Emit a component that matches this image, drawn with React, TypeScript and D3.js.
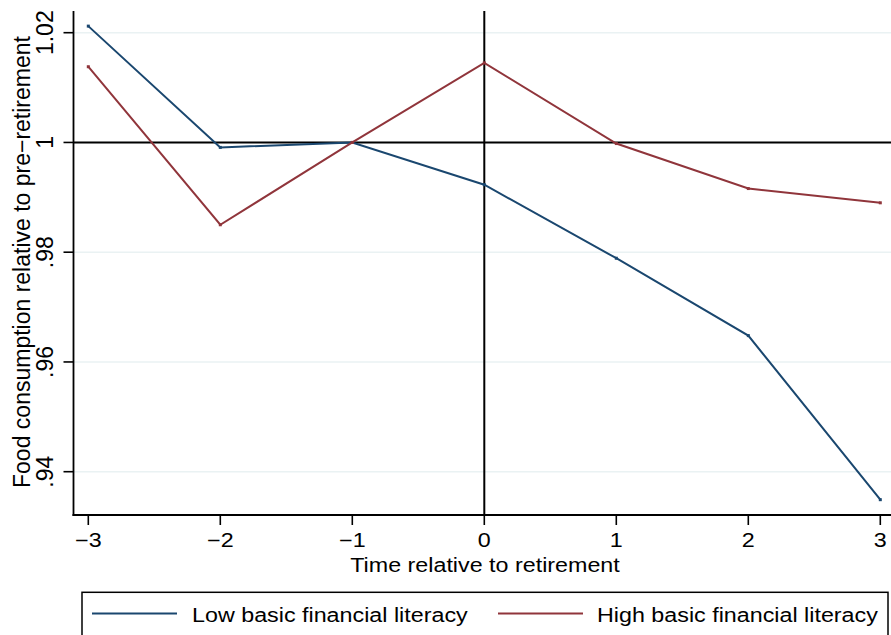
import React from "react";
import * as d3 from "d3";

// Event time (years relative to retirement)
const years = [-3, -2, -1, 0, 1, 2, 3];
// Food consumption relative to pre-retirement, by financial literacy group
const lowLiteracy = [1.0212, 0.9991, 1.0, 0.9923, 0.9789, 0.9648, 0.9349];
const highLiteracy = [1.0138, 0.985, 1.0, 1.0145, 0.9998, 0.9916, 0.989];

const yTicks = [0.94, 0.96, 0.98, 1, 1.02];
const yTickLabels = [".94", ".96", ".98", "1", "1.02"];
const xTicks = [-3, -2, -1, 0, 1, 2, 3];
const xTickLabels = ["\u22123", "\u22122", "\u22121", "0", "1", "2", "3"];

const seriesNames = ["Low basic financial literacy", "High basic financial literacy"];
const seriesColors = ["#1a476f", "#90353b"];

const W = 891;
const H = 635;
const FONT = "'Liberation Sans', Arial, Helvetica, sans-serif";

export default function App() {
  const plot = { left: 73.5, right: 897, top: 11, bottom: 515 };
  const x = d3.scaleLinear().domain([-3, 3]).range([88.3, 880.3]);
  const y = d3.scaleLinear().domain([0.94, 1.02]).range([471.7, 32.7]);

  const line = d3
    .line<[number, number]>()
    .x((d) => x(d[0]))
    .y((d) => y(d[1]));

  const series = [lowLiteracy, highLiteracy].map((vals) =>
    years.map((yr, i) => [yr, vals[i]] as [number, number])
  );

  const hText = (tx: number, ty: number, s: string, anchor: string, key?: string) => (
    <text
      key={key}
      transform={`translate(${tx},${ty}) scale(1,0.85)`}
      textAnchor={anchor}
      fontFamily={FONT}
      fontSize={23.3}
      fill="#000"
    >
      {s}
    </text>
  );

  const legendItems = [
    { x1: 92, x2: 177, tx: 192 },
    { x1: 498, x2: 583, tx: 597 },
  ];
  const legendY = 613.5;

  return (
    <svg
      width={W}
      height={H}
      style={{ position: "absolute", left: 0, top: 0, display: "block", background: "#fff" }}
    >
      <rect x={0} y={0} width={W} height={H} fill="#fff" />

      {/* horizontal grid */}
      {yTicks.map((t) => (
        <line
          key={`g${t}`}
          x1={plot.left}
          x2={plot.right}
          y1={y(t)}
          y2={y(t)}
          stroke="#eaf2f3"
          strokeWidth={1.6}
        />
      ))}

      {/* reference lines at 1 and at retirement */}
      <line x1={plot.left} x2={plot.right} y1={y(1)} y2={y(1)} stroke="#000" strokeWidth={2} />
      <line x1={x(0)} x2={x(0)} y1={plot.top} y2={plot.bottom} stroke="#000" strokeWidth={2} />

      {/* series */}
      {series.map((pts, i) => (
        <g key={`s${i}`}>
          <path
            d={line(pts) || ""}
            fill="none"
            stroke={seriesColors[i]}
            strokeWidth={2}
            strokeLinejoin="miter"
          />
          {pts.map((p, j) => (
            <rect
              key={j}
              x={x(p[0]) - 1.5}
              y={y(p[1]) - 1.5}
              width={3}
              height={3}
              fill={seriesColors[i]}
            />
          ))}
        </g>
      ))}

      {/* axes */}
      <line x1={plot.left} x2={plot.left} y1={plot.top} y2={plot.bottom + 1} stroke="#000" strokeWidth={1.8} />
      <line x1={plot.left - 1} x2={plot.right} y1={plot.bottom} y2={plot.bottom} stroke="#000" strokeWidth={1.8} />

      {/* y ticks and labels */}
      {yTicks.map((t, i) => (
        <g key={`yt${t}`}>
          <line x1={plot.left - 10} x2={plot.left} y1={y(t)} y2={y(t)} stroke="#000" strokeWidth={1.6} />
          <text
            transform={`translate(53.3,${y(t)}) rotate(-90)`}
            textAnchor="middle"
            fontFamily={FONT}
            fontSize={23}
            fill="#000"
          >
            {yTickLabels[i]}
          </text>
        </g>
      ))}

      {/* x ticks and labels */}
      {xTicks.map((t, i) => (
        <g key={`xt${t}`}>
          <line x1={x(t)} x2={x(t)} y1={plot.bottom} y2={plot.bottom + 10} stroke="#000" strokeWidth={1.6} />
          {hText(x(t), 547, xTickLabels[i], "middle")}
        </g>
      ))}

      {/* axis titles */}
      {hText(485, 572, "Time relative to retirement", "middle")}
      <text
        transform={`translate(29.5,262) rotate(-90)`}
        textAnchor="middle"
        fontFamily={FONT}
        fontSize={23}
        fill="#000"
      >
        Food consumption relative to pre{"\u2212"}retirement
      </text>

      {/* legend */}
      <rect x={82} y={592.3} width={806} height={70} fill="#fff" stroke="#000" strokeWidth={1.5} />
      {legendItems.map((it, i) => (
        <g key={`lg${i}`}>
          <line x1={it.x1} x2={it.x2} y1={legendY} y2={legendY} stroke={seriesColors[i]} strokeWidth={2} />
          {hText(it.tx, 621.7, seriesNames[i], "start")}
        </g>
      ))}
    </svg>
  );
}
